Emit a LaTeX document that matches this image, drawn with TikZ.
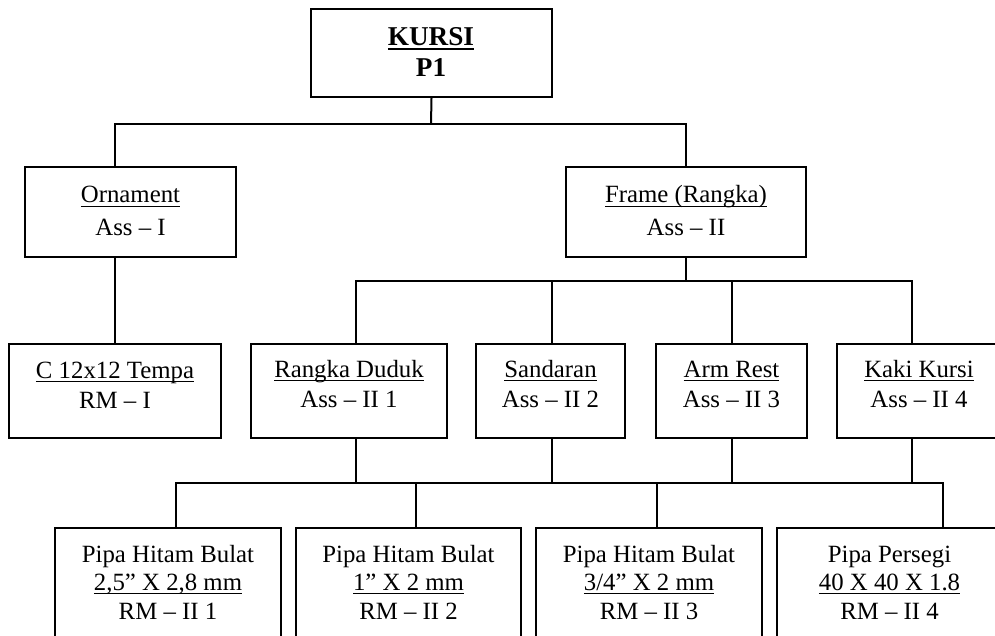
\documentclass[tikz,border=0pt]{standalone}
\usepackage{fontspec}
\setmainfont{Liberation Serif}
% underline drawn as a rule at a fixed depth below the baseline
\newcommand\undr[2][0.65pt]{\setbox0\hbox{#2}\rlap{\rule[-2pt]{\wd0}{#1}}\box0}
\begin{document}
\begin{tikzpicture}[x=0.5pt,y=-0.5pt,
  box/.style={draw=black, line width=1pt, rectangle, inner sep=0pt},
  lbl/.style={anchor=base, inner sep=0pt, font=\fontsize{12.4}{14}\selectfont},
  ttl/.style={anchor=base, inner sep=0pt, font=\fontsize{13.6}{15}\selectfont\bfseries},
  link/.style={draw=black, line width=1pt}]
\useasboundingbox (0,0) rectangle (995,636);
\clip (0,0) rectangle (995,636);
\fill[white] (0,0) rectangle (995,636);

% boxes
\node[box, minimum width=120.5pt, minimum height=44pt] (kursi) at (431.5,53) {};
\node[box, minimum width=105.5pt, minimum height=45pt] (orn)   at (130.5,212) {};
\node[box, minimum width=120pt,   minimum height=45pt] (frame) at (686,212) {};
\node[box, minimum width=106pt,   minimum height=47pt] (c12)   at (115,391) {};
\node[box, minimum width=98pt,    minimum height=47pt] (rd)    at (349,391) {};
\node[box, minimum width=74.5pt,  minimum height=47pt] (sd)    at (550.5,391) {};
\node[box, minimum width=75.5pt,  minimum height=47pt] (ar)    at (731.5,391) {};
\node[box, minimum width=82pt,    minimum height=47pt] (kk)    at (919,391) {};
\node[box, minimum width=113pt,   minimum height=70pt] (b1)    at (168,598) {};
\node[box, minimum width=112.5pt, minimum height=70pt] (b2)    at (408.5,598) {};
\node[box, minimum width=113pt,   minimum height=70pt] (b3)    at (649,598) {};
\node[box, minimum width=112.5pt, minimum height=70pt] (b4)    at (889.5,598) {};

% bus levels and tap columns
\coordinate (busA) at (431,124);
\coordinate (busB) at (686,281);
\coordinate (busC) at (356,483);
\coordinate (xRD) at (356,0);
\coordinate (xSD) at (552,0);
\coordinate (xAR) at (732,0);
\coordinate (xKK) at (912,0);
\coordinate (xB1) at (176,0);
\coordinate (xB2) at (416,0);
\coordinate (xB3) at (657,0);
\coordinate (xB4) at (943,0);

% connectors
\draw[link] (kursi.south) -- (busA);
\draw[link] (c12.north |- orn.north) |- (frame.north |- busA) -- (frame.north);
\draw[link] (c12.north |- orn.south) -- (c12.north);
\draw[link] (frame.south) -- (busB);
\draw[link] (xRD |- rd.north) |- (xKK |- busB) -- (xKK |- kk.north);
\draw[link] (xSD |- busB) -- (xSD |- sd.north);
\draw[link] (xAR |- busB) -- (xAR |- ar.north);
\draw[link] (xRD |- rd.south) -- (xRD |- busC);
\draw[link] (xSD |- sd.south) -- (xSD |- busC);
\draw[link] (xAR |- ar.south) -- (xAR |- busC);
\draw[link] (xKK |- kk.south) -- (xKK |- busC);
\draw[link] (xB1 |- b1.north) |- (xB4 |- busC) -- (xB4 |- b4.north);
\draw[link] (xB2 |- busC) -- (xB2 |- b2.north);
\draw[link] (xB3 |- busC) -- (xB3 |- b3.north);

% labels
\node[ttl] (kursiA) at (431,46) {\undr[1pt]{KURSI}};
\node[ttl] (kursiB) at (431,77) {P1};

\node[lbl] (ornA) at (130.5,203) {\undr{Ornament}};
\node[lbl] (ornB) at (130.5,235) {Ass – I};
\node[lbl] (frameA) at (686,203) {\undr{Frame (Rangka)}};
\node[lbl] (frameB) at (686,235) {Ass – II};

\node[lbl] (c12A) at (115,378) {\undr{C 12x12 Tempa}};
\node[lbl] (c12B) at (115,408) {RM – I};
\node[lbl] (rdA) at (349,377) {\undr{Rangka Duduk}};
\node[lbl] (rdB) at (349,407) {Ass – II 1};
\node[lbl] (sdA) at (550.5,377) {\undr{Sandaran}};
\node[lbl] (sdB) at (550.5,407) {Ass – II 2};
\node[lbl] (arA) at (731.5,377) {\undr{Arm Rest}};
\node[lbl] (arB) at (731.5,407) {Ass – II 3};
\node[lbl] (kkA) at (919,377) {\undr{Kaki Kursi}};
\node[lbl] (kkB) at (919,407) {Ass – II 4};

\node[lbl] (b1A) at (168,562) {Pipa Hitam Bulat};
\node[lbl] (b1B) at (168,590) {\undr{2,5” X 2,8 mm}};
\node[lbl] (b1C) at (168,619) {RM – II 1};
\node[lbl] (b2A) at (408.5,562) {Pipa Hitam Bulat};
\node[lbl] (b2B) at (408.5,590) {\undr{1” X 2 mm}};
\node[lbl] (b2C) at (408.5,619) {RM – II 2};
\node[lbl] (b3A) at (649,562) {Pipa Hitam Bulat};
\node[lbl] (b3B) at (649,590) {\undr{3/4” X 2 mm}};
\node[lbl] (b3C) at (649,619) {RM – II 3};
\node[lbl] (b4A) at (889.5,562) {Pipa Persegi};
\node[lbl] (b4B) at (889.5,590) {\undr{40 X 40 X 1.8}};
\node[lbl] (b4C) at (889.5,619) {RM – II 4};
\end{tikzpicture}
\end{document}
